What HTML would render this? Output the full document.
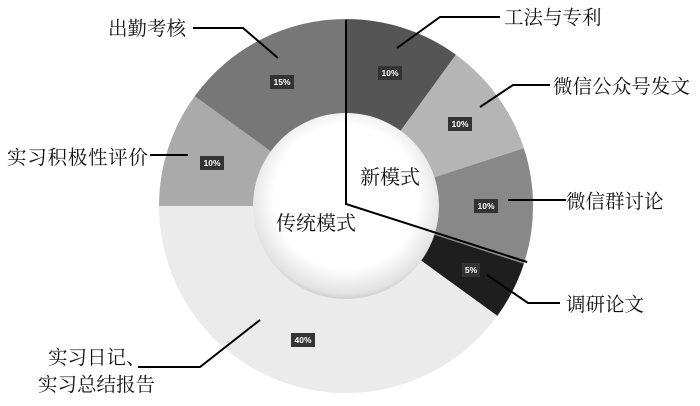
<!DOCTYPE html>
<html><head><meta charset="utf-8"><style>
body{margin:0;background:#fff;}
.cj{font-family:"Liberation Serif","Noto Serif CJK SC",serif;}
.pc{font-family:"Liberation Sans",sans-serif;}
</style></head><body>
<svg width="700" height="401" viewBox="0 0 700 401" xmlns="http://www.w3.org/2000/svg">
<defs>
<radialGradient id="ig" cx="50%" cy="45%" r="55%">
<stop offset="0.7" stop-color="#ffffff"/><stop offset="0.95" stop-color="#e2e2e2"/><stop offset="1" stop-color="#cfcfcf"/>
</radialGradient>
</defs>
<path d="M346,206 L346,19 A187,187 0 0 1 455.9,54.7 Z" fill="#555"/>
<path d="M346,206 L455.9,54.7 A187,187 0 0 1 523.9,148.2 Z" fill="#b5b5b5"/>
<path d="M346,206 L523.9,148.2 A187,187 0 0 1 523.9,263.8 Z" fill="#888"/>
<path d="M346,206 L523.9,263.8 A187,187 0 0 1 497.3,315.9 Z" fill="#1e1e1e"/>
<path d="M346,206 L497.3,315.9 A187,187 0 0 1 159,206 Z" fill="#ebebeb"/>
<path d="M346,206 L159,206 A187,187 0 0 1 194.7,96.1 Z" fill="#aaa"/>
<path d="M346,206 L194.7,96.1 A187,187 0 0 1 346,19 Z" fill="#777"/>
<circle cx="346" cy="206" r="93" fill="url(#ig)"/>
<g stroke="#000" stroke-width="2" fill="none">
<polyline points="346,20 346,204 527,262"/>
<polyline points="193,28 243,28 278,58"/>
<polyline points="150,155 188,155"/>
<polyline points="138,367 200,367 260,320"/>
<polyline points="500,17 440,17 397,48"/>
<polyline points="550,85 513,85 480,107"/>
<polyline points="566,200 508,200"/>
<polyline points="560,303 528,303 487,275"/>
</g>
<g class="pc" font-size="8.5" font-weight="bold" fill="#fff" text-anchor="middle">
<rect x="270" y="75" width="24" height="14" fill="#333"/><text x="282" y="85">15%</text>
<rect x="378" y="66" width="24" height="14" fill="#333"/><text x="390" y="76">10%</text>
<rect x="448" y="117" width="24" height="14" fill="#333"/><text x="460" y="127">10%</text>
<rect x="474" y="199" width="24" height="14" fill="#333"/><text x="486" y="209">10%</text>
<rect x="462" y="263" width="18" height="14" fill="#333"/><text x="471" y="273">5%</text>
<rect x="291" y="333" width="24" height="14" fill="#333"/><text x="303" y="343">40%</text>
<rect x="200" y="156" width="24" height="14" fill="#333"/><text x="212" y="166">10%</text>
</g>
<g class="cj" font-size="19.5" fill="#111">
<text x="108" y="35">出勤考核</text>
<text x="7" y="164" textLength="141">实习积极性评价</text>
<text x="48" y="364">实习日记、</text>
<text x="38" y="391">实习总结报告</text>
<text x="504" y="24">工法与专利</text>
<text x="553" y="93" textLength="137">微信公众号发文</text>
<text x="566" y="208">微信群讨论</text>
<text x="566" y="311">调研论文</text>
<text x="360" y="184" font-size="20">新模式</text>
<text x="276" y="230" font-size="20">传统模式</text>
</g>
</svg>
</body></html>
